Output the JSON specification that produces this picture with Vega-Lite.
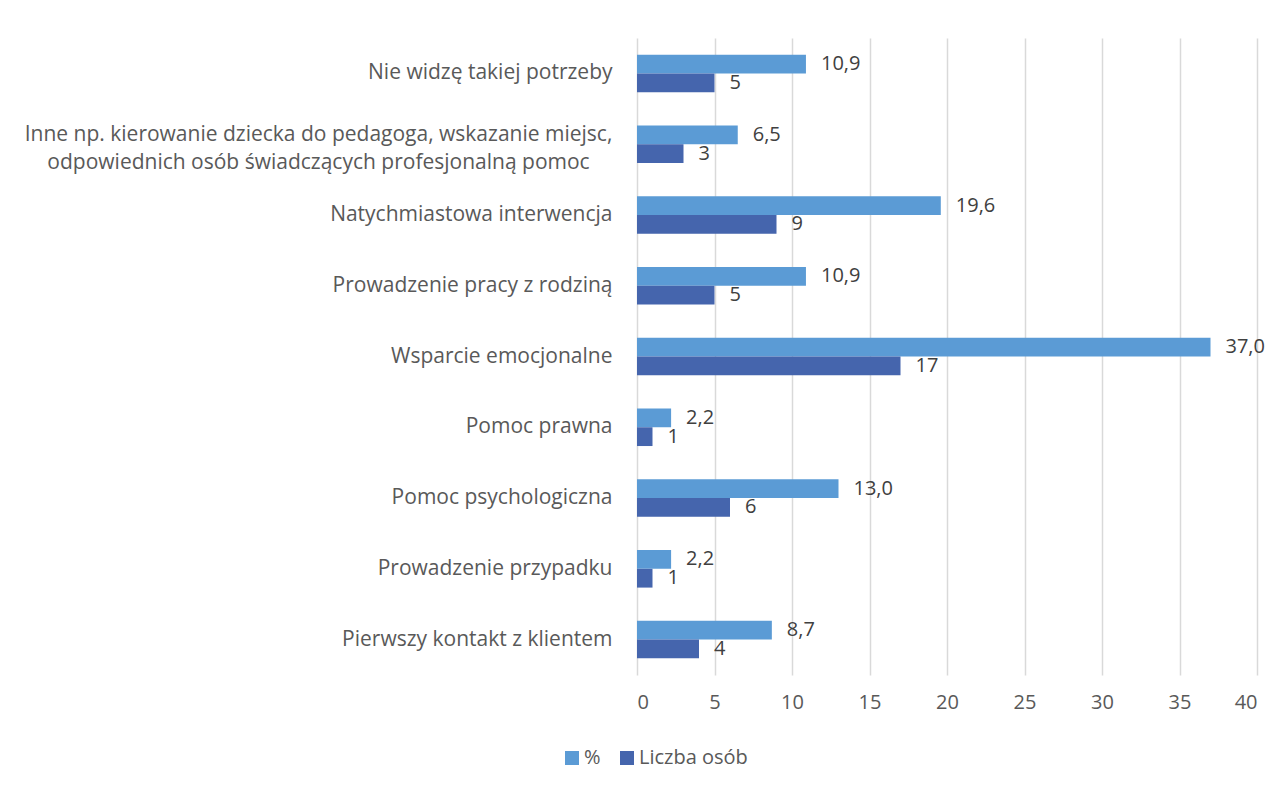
{
  "$schema": "https://vega.github.io/schema/vega-lite/v6.json",
  "width": 620,
  "height": 637,
  "padding": {"left": 24, "top": 38, "right": 31, "bottom": 10},
  "background": "white",
  "config": {
    "view": {"stroke": null},
    "font": "Open Sans",
    "axis": {"labelFont": "Open Sans", "labelFontSize": 21, "labelColor": "#595959"},
    "legend": {"labelFont": "Open Sans", "labelFontSize": 20, "labelColor": "#595959"}
  },
  "data": {
    "values": [
      {"kategoria": "Nie widzę takiej potrzeby", "seria": "%", "wartosc": 10.9, "etykieta": "10,9"},
      {"kategoria": "Nie widzę takiej potrzeby", "seria": "Liczba osób", "wartosc": 5, "etykieta": "5"},
      {"kategoria": "Inne np. kierowanie dziecka do pedagoga, wskazanie miejsc,|odpowiednich osób świadczących profesjonalną pomoc", "seria": "%", "wartosc": 6.5, "etykieta": "6,5"},
      {"kategoria": "Inne np. kierowanie dziecka do pedagoga, wskazanie miejsc,|odpowiednich osób świadczących profesjonalną pomoc", "seria": "Liczba osób", "wartosc": 3, "etykieta": "3"},
      {"kategoria": "Natychmiastowa interwencja", "seria": "%", "wartosc": 19.6, "etykieta": "19,6"},
      {"kategoria": "Natychmiastowa interwencja", "seria": "Liczba osób", "wartosc": 9, "etykieta": "9"},
      {"kategoria": "Prowadzenie pracy z rodziną", "seria": "%", "wartosc": 10.9, "etykieta": "10,9"},
      {"kategoria": "Prowadzenie pracy z rodziną", "seria": "Liczba osób", "wartosc": 5, "etykieta": "5"},
      {"kategoria": "Wsparcie emocjonalne", "seria": "%", "wartosc": 37.0, "etykieta": "37,0"},
      {"kategoria": "Wsparcie emocjonalne", "seria": "Liczba osób", "wartosc": 17, "etykieta": "17"},
      {"kategoria": "Pomoc prawna", "seria": "%", "wartosc": 2.2, "etykieta": "2,2"},
      {"kategoria": "Pomoc prawna", "seria": "Liczba osób", "wartosc": 1, "etykieta": "1"},
      {"kategoria": "Pomoc psychologiczna", "seria": "%", "wartosc": 13.0, "etykieta": "13,0"},
      {"kategoria": "Pomoc psychologiczna", "seria": "Liczba osób", "wartosc": 6, "etykieta": "6"},
      {"kategoria": "Prowadzenie przypadku", "seria": "%", "wartosc": 2.2, "etykieta": "2,2"},
      {"kategoria": "Prowadzenie przypadku", "seria": "Liczba osób", "wartosc": 1, "etykieta": "1"},
      {"kategoria": "Pierwszy kontakt z klientem", "seria": "%", "wartosc": 8.7, "etykieta": "8,7"},
      {"kategoria": "Pierwszy kontakt z klientem", "seria": "Liczba osób", "wartosc": 4, "etykieta": "4"}
    ]
  },
  "encoding": {
    "y": {
      "field": "kategoria",
      "type": "nominal",
      "sort": null,
      "scale": {"paddingInner": 0.47, "paddingOuter": 0.235},
      "axis": {
        "title": null,
        "domain": false,
        "ticks": false,
        "labelPadding": {"condition": {"test": "indexof(datum.value, '|') >= 0", "value": 319}, "value": 25},
        "labelAlign": {"condition": {"test": "indexof(datum.value, '|') >= 0", "value": "center"}, "value": "right"},
        "labelLimit": 0,
        "labelExpr": "split(datum.label, '|')",
        "labelLineHeight": 28,
        "labelOffset": {"condition": {"test": "indexof(datum.value, '|') >= 0", "value": -9}, "value": 0}
      }
    },
    "yOffset": {"field": "seria", "type": "nominal", "sort": ["%", "Liczba osób"], "scale": {"paddingInner": 0}},
    "x": {
      "field": "wartosc",
      "type": "quantitative",
      "scale": {"domain": [0, 40], "nice": false},
      "axis": {
        "title": null,
        "values": [0, 5, 10, 15, 20, 25, 30, 35, 40],
        "domain": false,
        "ticks": false,
        "grid": true,
        "gridColor": "#d9d9d9",
        "gridWidth": 1.5,
        "labelPadding": 17,
        "labelFontSize": 20
      }
    }
  },
  "layer": [
    {
      "mark": {"type": "bar"},
      "encoding": {
        "color": {
          "field": "seria",
          "type": "nominal",
          "sort": ["%", "Liczba osób"],
          "scale": {"domain": ["%", "Liczba osób"], "range": ["#5B9BD5", "#4565AD"]},
          "legend": {
            "title": null,
            "orient": "none",
            "direction": "horizontal",
            "legendX": -75,
            "legendY": 710,
            "symbolType": "square",
            "symbolSize": 196,
            "symbolOpacity": 1,
            "columnPadding": 16,
            "labelOffset": 2
          }
        }
      }
    },
    {
      "mark": {"type": "text", "align": "left", "dx": 15, "fontSize": 20, "color": "#404040", "font": "Open Sans"},
      "encoding": {"text": {"field": "etykieta"}}
    }
  ]
}
